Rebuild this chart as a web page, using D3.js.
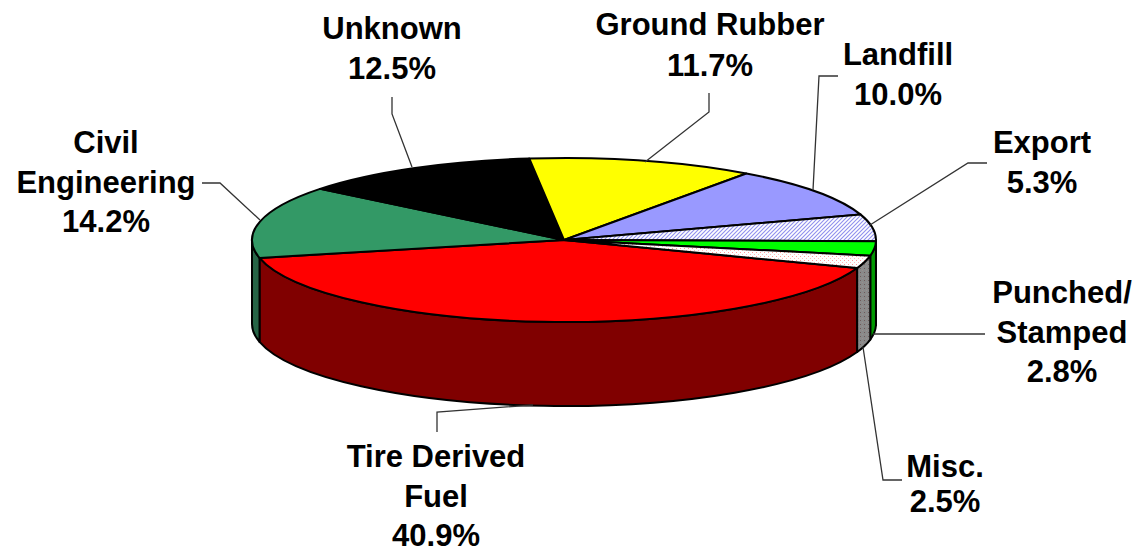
<!DOCTYPE html>
<html>
<head>
<meta charset="utf-8">
<script src="https://cdn.jsdelivr.net/npm/d3@7"></script>
<style>
  html, body { margin: 0; padding: 0; background: #fff; }
  svg { display: block; }
  text { font-family: "Liberation Sans", Arial, sans-serif; font-weight: bold; fill: #000; }
</style>
</head>
<body>
<svg id="chart" width="1142" height="553"></svg>
<script>
// ---- data ----
const categories = ["Tire Derived Fuel", "Civil Engineering", "Unknown", "Ground Rubber", "Landfill", "Export", "Punched/Stamped", "Misc."];
const values = [40.9, 14.2, 12.5, 11.7, 10.0, 5.3, 2.8, 2.5];
const labelLines = [
  ["Tire Derived", "Fuel", "40.9%"],
  ["Civil", "Engineering", "14.2%"],
  ["Unknown", "12.5%"],
  ["Ground Rubber", "11.7%"],
  ["Landfill", "10.0%"],
  ["Export", "5.3%"],
  ["Punched/", "Stamped", "2.8%"],
  ["Misc.", "2.5%"]
];

// ---- styles / layout ----
const topColors = ["#ff0000", "#339966", "#000000", "#ffff00", "#9999ff", "url(#hatchExport)", "#00ff00", "url(#dotsMisc)"];
const sideColors = ["#800000", "#266446", "#000000", "#808000", "#4d4d80", "#9999ff", "#009900", "url(#dotsMiscSide)"];
const labelPos = [ // [centerX, firstBaseline, lineHeight]
  [436, 467, 39.5], [106, 153, 39.5], [392, 39, 40], [710, 35, 41],
  [898, 65, 39.5], [1042, 153, 39.5], [1062, 303, 39.5], [945, 477, 35]
];
const leaders = [
  [[437, 432], [437, 412], [533, 405]],
  [[202, 183], [220, 183], [260, 220]],
  [[392, 97], [392, 114], [412, 167]],
  [[709, 93], [709, 112], [645, 162]],
  [[838, 76], [819, 76], [813, 190]],
  [[987, 163], [968, 163], [870, 225]],
  [[985, 334], [873, 334]],
  [[902, 480], [883, 480], [863, 347]]
];

const cx = 564, cy = 240, rx = 312, ry = 82, depth = 84;
const startDeg = 110;

const svg = d3.select("#chart");
const defs = svg.append("defs");

// Export hatch pattern
const ph = defs.append("pattern").attr("id", "hatchExport").attr("patternUnits", "userSpaceOnUse")
  .attr("width", 4).attr("height", 4);
ph.append("rect").attr("width", 4).attr("height", 4).attr("fill", "#ffffff");
ph.append("path").attr("d", "M-1,1 l2,-2 M0,4 l4,-4 M3,5 l2,-2").attr("stroke", "#8f8fee").attr("stroke-width", 1.1);

// Misc top dots
const pd = defs.append("pattern").attr("id", "dotsMisc").attr("patternUnits", "userSpaceOnUse")
  .attr("width", 4).attr("height", 4);
pd.append("rect").attr("width", 4).attr("height", 4).attr("fill", "#ffffff");
pd.append("rect").attr("x", 0).attr("y", 0).attr("width", 1).attr("height", 1).attr("fill", "#ff9999");
pd.append("rect").attr("x", 2).attr("y", 2).attr("width", 1).attr("height", 1).attr("fill", "#ffbbbb");

// Misc side dots
const ps = defs.append("pattern").attr("id", "dotsMiscSide").attr("patternUnits", "userSpaceOnUse")
  .attr("width", 4).attr("height", 4);
ps.append("rect").attr("width", 4).attr("height", 4).attr("fill", "#8a8a8a");
ps.append("rect").attr("x", 0).attr("y", 0).attr("width", 1).attr("height", 1).attr("fill", "#6e5a5a");
ps.append("rect").attr("x", 2).attr("y", 2).attr("width", 1).attr("height", 1).attr("fill", "#9a8f8f");

const pie = d3.pie().sort(null).value(d => d)
  .startAngle(startDeg * Math.PI / 180)
  .endAngle(startDeg * Math.PI / 180 + 2 * Math.PI);
const arcs = pie(values);

const P = (t, z = 0) => [cx + rx * Math.sin(t), cy - ry * Math.cos(t) + z];

function topPath(a, b) {
  const p0 = P(a), p1 = P(b);
  const large = (b - a) > Math.PI ? 1 : 0;
  return `M${cx},${cy}L${p0[0]},${p0[1]}A${rx},${ry} 0 ${large} 1 ${p1[0]},${p1[1]}Z`;
}
function wallPath(a, b) {
  const p0 = P(a), p1 = P(b), q1 = P(b, depth), q0 = P(a, depth);
  return `M${p0[0]},${p0[1]}A${rx},${ry} 0 0 1 ${p1[0]},${p1[1]}L${q1[0]},${q1[1]}A${rx},${ry} 0 0 0 ${q0[0]},${q0[1]}Z`;
}

// walls: front half only (PI/2 .. 3PI/2)
const gWalls = svg.append("g");
arcs.forEach((d, i) => {
  for (let k = -1; k <= 1; k++) {
    const lo = Math.PI / 2 + 2 * Math.PI * k, hi = 3 * Math.PI / 2 + 2 * Math.PI * k;
    const a = Math.max(d.startAngle, lo), b = Math.min(d.endAngle, hi);
    if (b > a + 1e-6) {
      gWalls.append("path").attr("d", wallPath(a, b))
        .attr("fill", sideColors[i]).attr("stroke", "#000").attr("stroke-width", 2)
        .attr("stroke-linejoin", "round");
    }
  }
});

// tops
const gTops = svg.append("g");
arcs.forEach((d, i) => {
  gTops.append("path").attr("d", topPath(d.startAngle, d.endAngle))
    .attr("fill", topColors[i]).attr("stroke", "#000").attr("stroke-width", 2)
    .attr("stroke-linejoin", "round");
});

// leader lines
const line = d3.line();
svg.append("g").selectAll("path").data(leaders).join("path")
  .attr("d", d => line(d)).attr("fill", "none").attr("stroke", "#333").attr("stroke-width", 1.3);

// labels
const gLab = svg.append("g");
labelLines.forEach((lines, i) => {
  const [x, y0, lh] = labelPos[i];
  const t = gLab.append("text").attr("text-anchor", "middle").attr("font-size", 31);
  lines.forEach((s, j) => {
    t.append("tspan").attr("x", x).attr("y", y0 + j * lh).text(s);
  });
});
</script>
</body>
</html>
